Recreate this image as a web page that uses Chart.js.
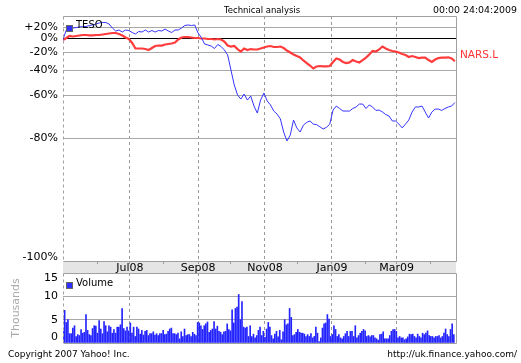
<!DOCTYPE html>
<html>
<head>
<meta charset="utf-8">
<script src="https://cdn.jsdelivr.net/npm/chart.js@4.4.1/dist/chart.umd.min.js"></script>
<style>
  body { margin: 0; background: #fff; }
  #wrap { position: relative; width: 521px; height: 363px; overflow: hidden; font-family: "DejaVu Sans", sans-serif; }
  canvas { position: absolute; left: 0; top: 0; }
  .t { position: absolute; white-space: nowrap; line-height: 1; color: #000; }
  .sq { position: absolute; width: 5px; height: 5px; background: #2f2fff; border: 1px solid #666; }
</style>
</head>
<body>
<div id="wrap">
  <canvas id="price" width="521" height="363"></canvas>
  <canvas id="vol" width="521" height="363"></canvas>
  <div class="t" style="left:224px;top:6px;font-size:8.5px">Technical analysis</div>
  <div class="t" style="right:4px;top:5px;font-size:9.4px">00:00 24:04:2009</div>
  <div class="sq" style="left:66px;top:25px"></div>
  <div class="t" style="left:76px;top:20px;font-size:10px">TESO</div>
  <div class="t" style="left:460px;top:49px;font-size:10.5px;color:#ff3333">NARS.L</div>
  <div class="sq" style="left:66px;top:282px"></div>
  <div class="t" style="left:76px;top:277.5px;font-size:10px">Volume</div>
  <div class="t" style="left:8px;top:349.5px;font-size:9px">Copyright 2007 Yahoo! Inc.</div>
  <div class="t" style="right:4px;top:349.5px;font-size:9px">http://uk.finance.yahoo.com/</div>
</div>
<script>
// % change since 1 May 2008, one sample every 3 days
const sampleStep = 3;
const tesco = [
  -1.6, 14.7, 17.5, 18.4, 19.4, 20.3, 21.3, 21.3, 23.3, 24.3,
  26.3, 28.4, 29.4, 29.4, 26.3, 18.4, 12.8, 14.7, 11.0, 14.7,
  13.7, 10.1, 7.5, 11.9, 11.0, 14.7, 11.0, 13.7, 11.0, 13.7,
  12.8, 16.5, 12.8, 10.1, 14.7, 14.7, 18.4, 23.3, 24.3, 23.3,
  24.3, 9.3, 1.6, -8.5, -9.9, -11.4, -14.9, -9.2, -12.1, -16.9,
  -23.3, -39.8, -52.7, -59.7, -62.3, -59.1, -62.9, -60.4, -66.3, -69.9,
  -62.9, -58.4, -63.4, -65.7, -68.9, -70.4, -72.6, -77.8, -80.8, -78.9,
  -73.1, -76.3, -77.8, -75.2, -74.1, -73.5, -74.8, -75.0, -75.9, -76.7,
  -76.1, -74.8, -68.4, -66.3, -67.6, -68.9, -68.9, -68.9, -67.6, -66.8,
  -65.2, -65.2, -67.6, -65.7, -66.8, -68.6, -68.4, -69.4, -70.6, -71.3,
  -73.5, -73.5, -74.8, -76.3, -74.8, -73.1, -69.4, -66.8, -66.8, -66.3,
  -69.4, -72.2, -69.4, -67.9, -67.9, -68.6, -67.6, -66.8, -66.3, -64.3
];
const nars = [
  -2.4, 0.8, 4.1, 3.3, 4.1, 4.9, 5.8, 5.8, 5.3, 5.3,
  5.8, 5.8, 6.7, 7.5, 8.4, 9.3, 9.3, 7.5, 4.9, 1.6,
  -0.8, -7.0, -14.9, -14.9, -14.9, -15.6, -16.9, -14.2, -11.4, -10.7,
  -10.7, -9.2, -8.5, -7.7, -6.2, -1.6, 1.6, 2.4, 2.4, 1.6,
  0.8, 0.8, 0, 0, -0.8, -0.8, -1.6, -0.8, -1.6, -4.7,
  -10.7, -12.1, -11.4, -15.6, -18.9, -14.9, -16.9, -15.6, -16.2, -16.2,
  -14.9, -13.5, -12.1, -11.4, -12.8, -12.8, -12.1, -14.2, -17.6, -20.2,
  -22.7, -24.6, -26.4, -29.8, -32.6, -35.3, -38.3, -36.3, -35.8, -36.1,
  -36.1, -35.8, -31.5, -27.5, -28.7, -31.5, -32.6, -32.0, -29.3, -30.9,
  -32.0, -29.3, -26.4, -22.7, -18.2, -18.9, -16.2, -12.1, -14.9, -16.9,
  -18.2, -19.1, -20.2, -22.1, -23.3, -25.8, -24.6, -25.8, -27.0, -26.4,
  -26.4, -29.3, -31.5, -28.7, -27.0, -26.4, -26.4, -26.1, -27.5, -30.7
];
// daily volume, thousands
const volume = [
  2.5, 7.0, 4.4, 5.0, 2.0, 2.0, 3.2, 3.7, 1.4, 1.8,
  1.6, 2.9, 2.1, 2.3, 6.1, 2.7, 1.8, 1.6, 3.1, 3.7,
  3.6, 2.1, 4.8, 3.0, 2.0, 4.6, 3.7, 2.4, 3.7, 3.4,
  2.1, 2.9, 2.1, 3.4, 3.4, 3.9, 7.4, 3.1, 2.6, 3.4,
  2.6, 4.3, 2.1, 3.4, 1.4, 3.4, 3.0, 1.9, 2.7, 1.7,
  2.5, 2.7, 1.6, 2.0, 2.0, 2.4, 1.7, 2.0, 1.6, 2.0,
  2.0, 2.7, 1.8, 1.9, 2.5, 3.0, 3.2, 2.0, 2.0, 1.8,
  2.1, 0.9, 2.4, 1.4, 3.0, 1.6, 1.8, 1.8, 1.4, 2.3,
  1.9, 1.6, 4.4, 4.3, 3.7, 2.9, 3.7, 4.1, 4.5, 2.3,
  2.7, 3.0, 4.6, 3.0, 3.6, 2.5, 2.3, 1.8, 2.4, 2.5,
  4.1, 2.9, 2.6, 7.1, 4.3, 7.4, 7.7, 10.4, 5.0, 8.9,
  3.4, 3.2, 3.4, 1.4, 3.7, 1.4, 1.9, 1.1, 1.6, 2.7,
  3.4, 1.6, 2.5, 1.2, 3.0, 4.4, 3.4, 1.6, 0.9, 1.9,
  2.5, 1.3, 2.7, 0.7, 2.4, 5.0, 3.9, 4.1, 7.4, 5.5,
  1.6, 1.8, 2.3, 2.9, 2.3, 2.1, 2.1, 1.9, 1.4, 1.8,
  1.4, 2.0, 1.1, 1.4, 3.4, 2.1, 0.3, 1.1, 3.2, 4.1,
  4.3, 6.1, 5.1, 1.4, 1.8, 3.7, 2.9, 1.4, 1.8, 1.1,
  0.9, 1.4, 2.0, 2.5, 1.4, 2.5, 2.5, 1.4, 3.7, 1.1,
  1.6, 2.1, 2.5, 2.9, 2.6, 1.4, 1.6, 1.3, 1.6, 1.6,
  1.1, 0.9, 0.6, 1.8, 1.9, 2.4, 0.9, 0.9, 0.9, 1.6,
  2.5, 2.9, 2.9, 2.5, 1.1, 1.4, 1.1, 1.1, 0.7, 0.9,
  1.3, 1.9, 1.8, 1.9, 1.4, 1.1, 1.9, 1.4, 1.1, 2.1,
  1.8, 2.1, 2.6, 1.6, 1.4, 1.4, 1.1, 1.4, 1.4, 1.6,
  1.1, 1.4, 2.1, 3.0, 1.8, 1.4, 2.9, 4.1, 1.8
];
// day offsets of month starts from 1 May 2008
const monthDays = [31, 61, 92, 123, 153, 184, 214, 245, 276, 304, 335];
const monthLabels = ['', 'Jul08', '', 'Sep08', '', 'Nov08', '', 'Jan09', '', 'Mar09', ''];
const pctTicks = [-100, -80, -60, -40, -20, 0, 20];
const pctLabels = ['-100%', '-80%', '-60%', '-40%', '-20%', '0%', '+20%'];
const volTicks = [0, 5, 10, 15];
const lastDay = 358;
const yMin = 0.0278, yMax = 1.4367;

Chart.defaults.font.family = "'DejaVu Sans', sans-serif";
Chart.defaults.font.size = 11;
Chart.defaults.color = '#000';

var frame = {
  id: 'frame',
  afterDraw(chart) {
    const ctx = chart.ctx, a = chart.chartArea;
    const l = Math.round(a.left) + 0.5, t = Math.round(a.top) + 0.5;
    const r = Math.round(a.right) + 0.5, b = Math.round(a.bottom) + 0.5;
    ctx.save();
    ctx.strokeStyle = '#a0a0a0';
    ctx.lineWidth = 1;
    ctx.beginPath();
    ctx.moveTo(l, t); ctx.lineTo(r, t); ctx.lineTo(r, b); ctx.lineTo(l, b);
    ctx.stroke();
    // left edge is dashed like the month lines
    ctx.setLineDash([3, 3]);
    ctx.beginPath();
    ctx.moveTo(l, t); ctx.lineTo(l, b);
    ctx.stroke();
    ctx.restore();
  }
};

function monthAxis(extra) {
  return Object.assign({
    type: 'linear',
    min: 0,
    max: lastDay,
    offset: false,
    afterBuildTicks: s => { s.ticks = monthDays.map(v => ({ value: v })); },
    border: { display: false, dash: [3, 3] },
  }, extra);
}

new Chart(document.getElementById('price'), {
  type: 'line',
  data: {
    labels: tesco.map((_, i) => i * sampleStep),
    datasets: [
      { label: 'TESO', data: tesco.map(p => 1 + p / 100), borderColor: '#3434ff', borderWidth: 1 },
      { label: 'NARS.L', data: nars.map(p => 1 + p / 100), borderColor: '#ff3c3c', borderWidth: 2.2 }
    ]
  },
  options: {
    responsive: false,
    animation: false,
    devicePixelRatio: 1,
    layout: { padding: { top: 16, right: 65, bottom: 90, left: 0 } },
    elements: { point: { radius: 0 }, line: { tension: 0 } },
    plugins: { legend: { display: false }, tooltip: { enabled: false } },
    scales: {
      x: monthAxis({
        afterFit: s => { s.height = 12; },
        backgroundColor: '#e5e5e5',
        grid: {
          color: c => monthLabels[c.index] ? '#999' : 'rgba(0,0,0,0)',
          tickColor: '#999',
          tickLength: 3
        },
        ticks: {
          autoSkip: false, maxRotation: 0, padding: -1.5,
          font: { size: 11, lineHeight: 1 },
          callback: (v, i) => monthLabels[i]
        }
      }),
      y: {
        type: 'logarithmic',
        min: yMin,
        max: yMax,
        afterBuildTicks: s => {
          s.ticks = pctTicks.map(p => ({ value: p === -100 ? yMin : 1 + p / 100 }));
        },
        afterFit: s => { s.width = 63; },
        border: { display: false },
        grid: {
          drawTicks: false,
          color: c => c.index === 5 ? '#000' : (c.index === 0 ? 'rgba(0,0,0,0)' : '#a8a8a8')
        },
        ticks: {
          autoSkip: false, padding: 5,
          font: { size: 11, lineHeight: 0.65 },
          callback: (v, i) => i === 0 ? [pctLabels[i], ''] : pctLabels[i]
        }
      }
    }
  },
  plugins: [frame]
});

new Chart(document.getElementById('vol'), {
  type: 'bar',
  data: {
    labels: volume.map((_, i) => i * (lastDay - 2) / (volume.length - 1)),
    datasets: [{ label: 'Volume', data: volume, backgroundColor: '#2424ff', borderWidth: 0, barThickness: 1 }]
  },
  options: {
    responsive: false,
    animation: false,
    devicePixelRatio: 1,
    layout: { padding: { top: 273, right: 65, bottom: 20, left: 0 } },
    plugins: { legend: { display: false }, tooltip: { enabled: false } },
    scales: {
      x: monthAxis({
        afterFit: s => { s.height = 0; },
        grid: {
          offset: false,
          drawTicks: false,
          color: c => monthLabels[c.index] ? '#999' : 'rgba(0,0,0,0)'
        },
        ticks: { display: false }
      }),
      y: {
        min: 0,
        max: 15,
        afterBuildTicks: s => { s.ticks = volTicks.map(v => ({ value: v })); },
        afterFit: s => { s.width = 63; },
        border: { display: false },
        grid: {
          drawTicks: false,
          color: c => (c.tick.value === 5 || c.tick.value === 10) ? '#a8a8a8' : 'rgba(0,0,0,0)'
        },
        ticks: {
          autoSkip: false,
          padding: 5,
          font: { size: 11, lineHeight: 1 },
          callback: v => v === 15 ? ['', '15'] : (v === 0 ? ['0', ''] : String(v))
        },
        title: {
          display: true, text: 'Thousands', color: '#aaaaaa',
          font: { size: 11, lineHeight: 1.2 }, padding: { top: 10, bottom: 0 }
        }
      }
    }
  },
  plugins: [frame]
});
</script>
</body>
</html>
